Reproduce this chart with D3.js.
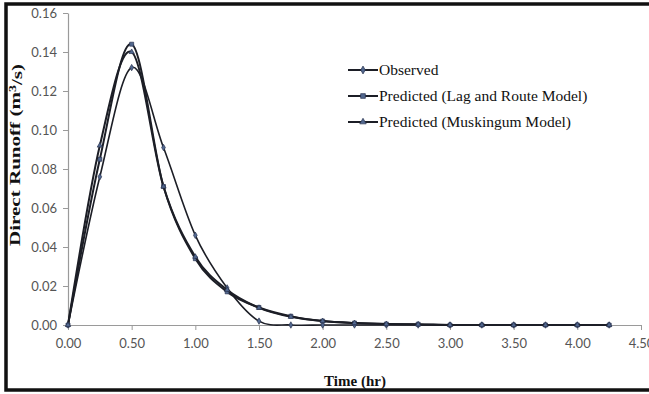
<!DOCTYPE html>
<html>
<head>
<meta charset="utf-8">
<script src="https://cdn.jsdelivr.net/npm/d3@7"></script>
<style>
  body { margin: 0; background: #fff; }
  svg { display: block; }
</style>
</head>
<body>
<svg id="chart"></svg>
<script>
const time = [0, 0.25, 0.5, 0.75, 1.0, 1.25, 1.5, 1.75, 2.0, 2.25, 2.5, 2.75, 3.0, 3.25, 3.5, 3.75, 4.0, 4.25];
const observed = [0, 0.076, 0.132, 0.091, 0.046, 0.019, 0.002, 0, 0, 0, 0, 0, 0, 0, 0, 0, 0, 0];
const lagRoute = [0, 0.085, 0.144, 0.071, 0.034, 0.017, 0.009, 0.0045, 0.002, 0.001, 0.0005, 0.0004, 0, 0, 0, 0, 0, 0];
const muskingum = [0, 0.092, 0.140, 0.071, 0.035, 0.018, 0.0088, 0.0042, 0.002, 0.001, 0.0005, 0.0003, 0, 0, 0, 0, 0, 0];
const xTicks = [0, 0.5, 1, 1.5, 2, 2.5, 3, 3.5, 4, 4.5];
const yTicks = [0, 0.02, 0.04, 0.06, 0.08, 0.10, 0.12, 0.14, 0.16];
const seriesNames = ["Observed", "Predicted (Lag and Route Model)", "Predicted (Muskingum Model)"];

const svgWidth = 649;
const svgHeight = 394;
const margin = { top: 13, right: 8, bottom: 69, left: 68 };

const svg = d3.select("#chart").attr("width", svgWidth).attr("height", svgHeight);

// black frame round the whole picture (open on the right)
svg.append("rect")
  .attr("x", 6).attr("y", 4)
  .attr("width", 700).attr("height", 386)
  .attr("fill", "none")
  .attr("stroke", "#111")
  .attr("stroke-width", 3.5);

const g = svg.append("g").attr("transform", `translate(${margin.left},${margin.top})`);

const xScale = d3.scaleLinear().domain([0, 4.5]).range([0, 573]);
const yScale = d3.scaleLinear().domain([0, 0.16]).range([312, 0]);

const tickFont = "Lato, 'Open Sans', sans-serif";
const serif = "'Liberation Serif', 'Times New Roman', serif";

// x-axis
const xAxis = g.append("g")
  .attr("transform", `translate(0, ${yScale(0)})`)
  .call(d3.axisBottom(xScale).tickValues(xTicks).tickFormat(d3.format(".2f")).tickSize(5).tickPadding(9).tickSizeOuter(0));
// y-axis
const yAxis = g.append("g")
  .call(d3.axisLeft(yScale).tickValues(yTicks).tickFormat(d3.format(".2f")).tickSize(5).tickPadding(6).tickSizeOuter(0));

[xAxis, yAxis].forEach((ax) => {
  ax.select(".domain").attr("stroke", "#9a9a9a").attr("stroke-width", 1.2);
  ax.selectAll(".tick line").attr("stroke", "#9a9a9a");
  ax.selectAll(".tick text")
    .attr("fill", "#555")
    .style("font-family", tickFont)
    .style("font-size", "13px");
});

// lines
const line = d3.line()
  .x((d) => xScale(d[0]))
  .y((d) => yScale(d[1]))
  .curve(d3.curveCatmullRom.alpha(0));

const allSeries = [observed, lagRoute, muskingum];
const markerTypes = [d3.symbolDiamond, d3.symbolSquare, d3.symbolTriangle];
const markerSizes = [12, 16, 12];

allSeries.forEach((vals, i) => {
  const pts = time.map((t, j) => [t, vals[j]]);
  g.append("path")
    .datum(pts)
    .attr("fill", "none")
    .attr("stroke", "#1c1e26")
    .attr("stroke-width", i === 0 ? 1.6 : 2)
    .attr("d", line);

  g.selectAll(".m" + i)
    .data(pts)
    .enter()
    .append("path")
    .attr("class", "m" + i)
    .attr("transform", (d) => `translate(${xScale(d[0])},${yScale(d[1])})`)
    .attr("d", d3.symbol().type(markerTypes[i]).size(markerSizes[i]))
    .attr("fill", "#52688f")
    .attr("stroke", "#2a3450")
    .attr("stroke-width", 0.7);
});

// legend
const legend = svg.append("g").attr("transform", "translate(348, 70)");
seriesNames.forEach((name, i) => {
  const row = legend.append("g").attr("transform", `translate(0, ${i * 26})`);
  row.append("line")
    .attr("x1", 0).attr("x2", 30)
    .attr("stroke", "#1c1e26").attr("stroke-width", 2);
  row.append("path")
    .attr("transform", "translate(15,0)")
    .attr("d", d3.symbol().type(markerTypes[i]).size(markerSizes[i] + 6))
    .attr("fill", "#52688f")
    .attr("stroke", "#2a3450")
    .attr("stroke-width", 0.7);
  row.append("text")
    .attr("x", 31)
    .attr("dy", "0.33em")
    .style("font-family", serif)
    .style("font-size", "15.5px")
    .attr("fill", "#111")
    .text(name);
});

// axis titles
svg.append("text")
  .attr("x", 355)
  .attr("y", 386)
  .attr("text-anchor", "middle")
  .style("font-family", serif)
  .style("font-size", "15px")
  .style("font-weight", "bold")
  .attr("fill", "#111")
  .text("Time (hr)");

const yTitle = svg.append("text")
  .attr("transform", "translate(20, 155) rotate(-90)")
  .attr("text-anchor", "middle")
  .attr("textLength", 182)
  .attr("lengthAdjust", "spacingAndGlyphs")
  .style("font-family", serif)
  .style("font-size", "15px")
  .style("font-weight", "bold")
  .attr("fill", "#111");
yTitle.append("tspan").text("Direct Runoff (m");
yTitle.append("tspan").attr("dy", "-0.4em").style("font-size", "10px").text("3");
yTitle.append("tspan").attr("dy", "0.4em").text("/s)");
</script>
</body>
</html>
